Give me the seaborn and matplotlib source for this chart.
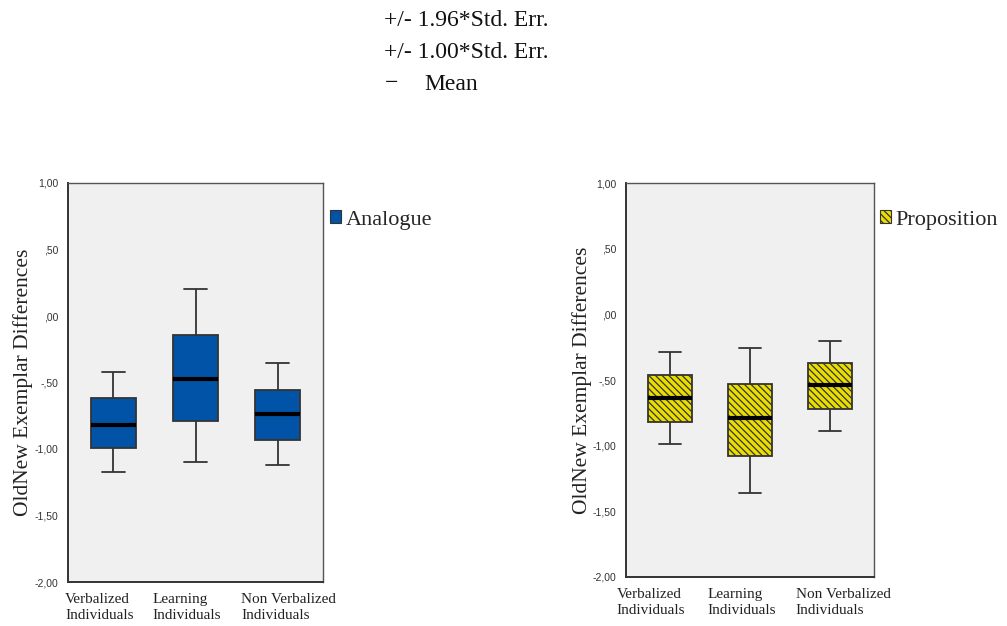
import matplotlib
matplotlib.use("Agg")
import matplotlib.pyplot as plt
import matplotlib.transforms as mtransforms
import seaborn as sns
import pandas as pd
import numpy as np
from matplotlib.patches import Patch
from matplotlib.ticker import FixedLocator, FixedFormatter

# ---- data ----
groups = ["Verbalized\nIndividuals", "Learning\nIndividuals", "Non Verbalized\nIndividuals"]

# Analogue: mean -/+ 1.96 SE (whiskers), mean -/+ 1.00 SE (box), mean
analogue_lo196 = [-1.17, -1.10, -1.12]
analogue_lo100 = [-0.99, -0.79, -0.93]
analogue_mean = [-0.82, -0.47, -0.74]
analogue_hi100 = [-0.62, -0.14, -0.56]
analogue_hi196 = [-0.42, 0.20, -0.35]

# Proposition
prop_lo196 = [-0.99, -1.36, -0.89]
prop_lo100 = [-0.82, -1.08, -0.72]
prop_mean = [-0.64, -0.79, -0.54]
prop_hi100 = [-0.46, -0.53, -0.37]
prop_hi196 = [-0.29, -0.26, -0.20]

ytick_values = [1.0, 0.5, 0.0, -0.5, -1.0, -1.5, -2.0]
ytick_labels = ["1,00", ",50", ",00", "-,50", "-1,00", "-1,50", "-2,00"]

header_lines = ["+/- 1.96*Std. Err.", "+/- 1.00*Std. Err."]
mean_label = "Mean"
ylabel = "OldNew Exemplar Differences"

blue = "#0053A6"
yellow = "#EADD00"
panel_bg = "#F0F0F0"
edge = "#333333"

sns.set_style("white")
plt.rcParams["font.family"] = ["Liberation Serif", "DejaVu Serif"]
plt.rcParams["hatch.linewidth"] = 0.9
plt.rcParams["hatch.color"] = "black"

W, H = 1007, 626
fig = plt.figure(figsize=(W / 100, H / 100), dpi=100)


def make_df(lo196, lo100, mean, hi100, hi196):
    rows = []
    for g, a, b, c, d, e in zip(groups, lo196, lo100, mean, hi100, hi196):
        for v in (a, b, c, d, e):
            rows.append({"group": g, "value": v})
    return pd.DataFrame(rows)


def draw_panel(rect, df, color, hatch, legend_label, legend_xy, label_shift, ylabelpad):
    l, b, r, t = rect
    ax = fig.add_axes([l / W, 1 - b / H, (r - l) / W, (b - t) / H])
    ax.set_facecolor(panel_bg)
    sns.boxplot(data=df, x="group", y="value", order=groups, color=color,
                saturation=1, width=0.55, whis=(0, 100), fliersize=0,
                linecolor=edge, linewidth=1.3,
                medianprops=dict(color="black", linewidth=3),
                ax=ax)
    if hatch:
        for p in ax.patches:
            p.set_hatch(hatch)
    ax.set_ylim(-2.0, 1.0)
    ax.set_xlim(-0.55, 2.55)
    ax.yaxis.set_major_locator(FixedLocator(ytick_values))
    ax.yaxis.set_major_formatter(FixedFormatter(ytick_labels))
    for lab in ax.get_yticklabels():
        lab.set_family(["Liberation Sans", "DejaVu Sans"])
        lab.set_fontsize(7.5)
        lab.set_color("#333333")
    ax.tick_params(axis="y", direction="out", length=6, width=1, color=edge, pad=1)
    ax.tick_params(axis="x", direction="out", length=6, width=1, color=edge,
                   labelsize=11, pad=2)
    for lab, dx in zip(ax.get_xticklabels(), label_shift):
        lab.set_multialignment("left")
        lab.set_linespacing(1.25)
        lab.set_color("#222222")
        lab.set_transform(lab.get_transform() +
                          mtransforms.ScaledTranslation(dx / 100, 0, fig.dpi_scale_trans))
    ax.set_xlabel("")
    ax.set_ylabel(ylabel, fontsize=15.5, labelpad=ylabelpad, color="#222222")
    for s in ax.spines.values():
        s.set_color("#555555")
        s.set_linewidth(1.0)
    ax.spines["left"].set_color(edge)
    ax.spines["bottom"].set_color(edge)
    ax.spines["left"].set_linewidth(1.4)
    ax.spines["bottom"].set_linewidth(1.4)
    handle = Patch(facecolor=color, edgecolor=edge, hatch=hatch, linewidth=0.8)
    fig.legend(handles=[handle], labels=[legend_label], loc="center left",
               bbox_to_anchor=(legend_xy[0] / W, 1 - legend_xy[1] / H),
               frameon=False, fontsize=16, handlelength=0.5, handleheight=0.5,
               handletextpad=0.2, borderpad=0, borderaxespad=0)
    return ax


df_a = make_df(analogue_lo196, analogue_lo100, analogue_mean, analogue_hi100, analogue_hi196)
df_p = make_df(prop_lo196, prop_lo100, prop_mean, prop_hi100, prop_hi196)

draw_panel((68, 582, 323, 183), df_a, blue, None, "Analogue", (330, 220),
           (-14, -9, 11), 1)
draw_panel((626, 577, 874, 183), df_p, yellow, "\\" * 5, "Proposition", (880, 220),
           (-19, -8, 13), 0.5)

# header (significance legend)
hfs = 17
fig.text(384 / W, 1 - 21 / H, header_lines[0], fontsize=hfs, va="center", ha="left", color="#111111")
fig.text(384 / W, 1 - 52 / H, header_lines[1], fontsize=hfs, va="center", ha="left", color="#111111")
fig.text(385 / W, 1 - 84 / H, "\u2212", fontsize=hfs, va="center", ha="left", color="#111111")
fig.text(424 / W, 1 - 84 / H, mean_label, fontsize=hfs, va="center", ha="left", color="#111111")

fig.savefig("out.png", dpi=100)
